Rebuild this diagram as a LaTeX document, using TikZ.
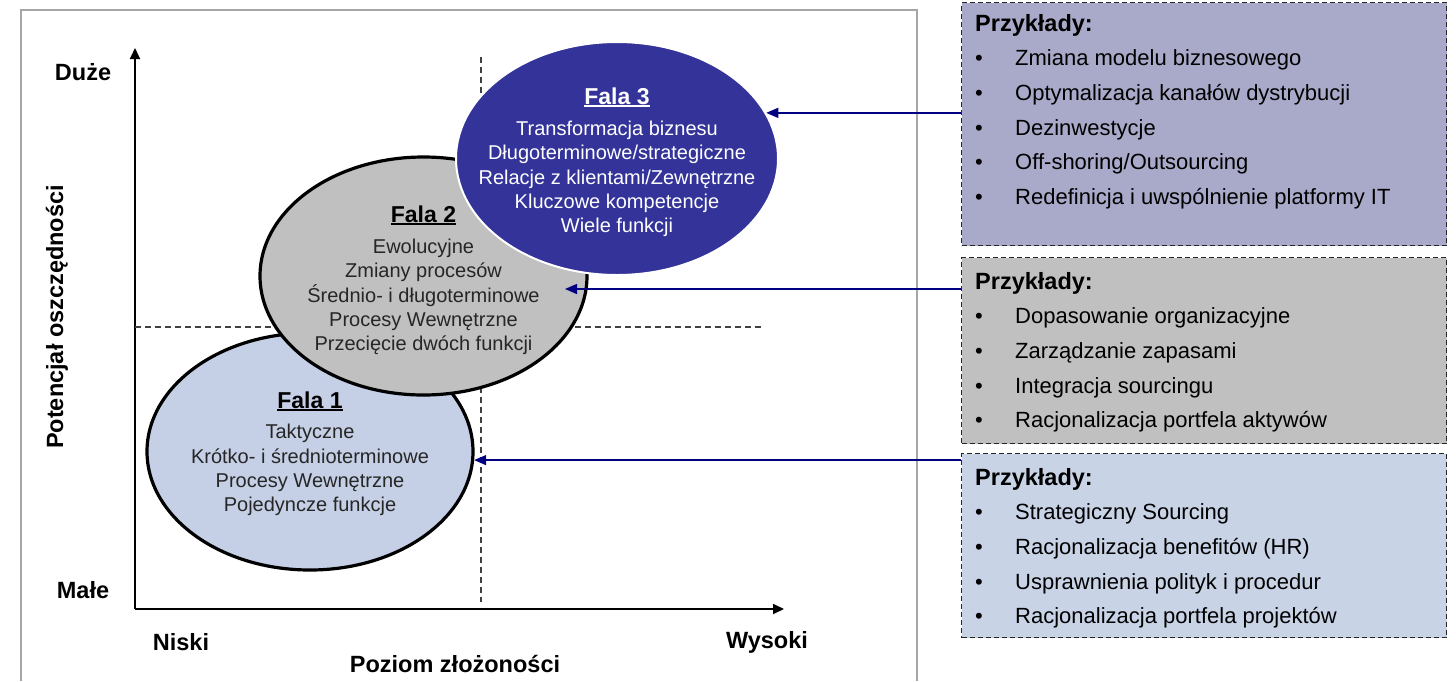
\documentclass[tikz,border=0pt]{standalone}
\usepackage{fontspec}
\setmainfont{Liberation Sans}
\usetikzlibrary{shapes.geometric,arrows.meta}
\definecolor{navyarr}{HTML}{000080}
\definecolor{falaA}{HTML}{C5D0E6}
\definecolor{falaB}{HTML}{C0C0C0}
\definecolor{falaC}{HTML}{333399}
\definecolor{boxA}{HTML}{A9A9C9}
\definecolor{boxB}{HTML}{C0C0C0}
\definecolor{boxC}{HTML}{C9D3E6}
\definecolor{framegray}{HTML}{A6A6A6}
\newcommand\falattl[1]{\setbox0\hbox{#1}\rlap{\rule[-2.6pt]{\wd0}{1.8pt}}\box0}
\newcommand\itm{\makebox[40pt][l]{•}}
\tikzset{
  ell/.style={ellipse, inner sep=0pt},
  ttl/.style={font=\fontsize{23}{27}\selectfont\bfseries, inner sep=0pt},
  body/.style={font=\fontsize{20}{24.3}\selectfont, align=center, inner sep=0pt},
  axislabel/.style={font=\fontsize{23.5}{27}\selectfont\bfseries, inner sep=0pt},
  exbox/.style={draw=black!85, line width=1.2pt, dash pattern=on 5pt off 3pt, anchor=north west, inner sep=0pt},
  extext/.style={font=\fontsize{22}{34.6}\selectfont, align=left, anchor=north west, inner sep=0pt},
  axisline/.style={draw=black, line width=1.8pt, -{Triangle[length=11pt,width=10pt]}},
  guide/.style={draw=black!75, line width=1.2pt, dash pattern=on 6pt off 4pt},
  navarr/.style={draw=navyarr, line width=1.4pt, -{Triangle[length=12pt,width=10pt]}},
}
\begin{document}
\begin{tikzpicture}[x=1pt,y=-1pt]
\useasboundingbox (0,0) rectangle (1456,681);
% outer frame
\draw[framegray, line width=1.5pt] (21,681) -- (21,10) -- (917,10) -- (917,681);
% axes
\coordinate (O) at (135,609);
\coordinate (Ytop) at (135,48);
\coordinate (Xend) at (784,609);
\draw[axisline] (O) -- (Ytop);
\draw[axisline] (O) -- (Xend);
% dashed guides
\coordinate (hA) at (135,327);
\coordinate (hB) at (762,327);
\coordinate (vA) at (481,57);
\coordinate (vB) at (481,602);
\draw[guide] (hA) -- (hB);
\draw[guide] (vA) -- (vB);
% axis labels
\node[axislabel] (duze) at (83,72) {Duże};
\node[axislabel] (male) at (83,590) {Małe};
\node[axislabel] (niski) at (181,642) {Niski};
\node[axislabel] (wysoki) at (767,642) {Wysoki};
\node[axislabel] (poziom) at (455,664) {Poziom złożoności};
\node[axislabel, rotate=90] (potencjal) at (57,317) {Potencjał oszczędności};
% ellipses
\node[ell, fill=falaA, draw=black, line width=3.2pt, minimum width=326pt, minimum height=237pt] (e1) at (310,451.5) {};
\node[ell, fill=falaB, draw=black, line width=3.2pt, minimum width=327pt, minimum height=238pt] (e2) at (423.5,276) {};
\node[ell, fill=falaC, draw=white, line width=2pt, minimum width=322pt, minimum height=233pt] (e3) at (617,158.5) {};
% ellipse texts
\node[ttl] (t1) at (310,401) {\falattl{Fala 1}};
\node[body, text=black!85] (x1) at (310,470) {Taktyczne\\Krótko- i średnioterminowe\\Procesy Wewnętrzne\\Pojedyncze funkcje};
\node[ttl] (t2) at (423.5,215) {\falattl{Fala 2}};
\node[body, text=black!85] (x2) at (423.5,297) {Ewolucyjne\\Zmiany procesów\\Średnio- i długoterminowe\\Procesy Wewnętrzne\\Przecięcie dwóch funkcji};
\node[ttl, text=white] (t3) at (617,97) {\falattl{Fala 3}};
\node[body, text=white] (x3) at (617,179) {Transformacja biznesu\\Długoterminowe/strategiczne\\Relacje z klientami/Zewnętrzne\\Kluczowe kompetencje\\Wiele funkcji};
% example boxes
\node[exbox, fill=boxA, minimum width=485pt, minimum height=243pt] (b1) at (961,2) {};
\node[exbox, fill=boxB, minimum width=485pt, minimum height=186pt] (b2) at (961,257) {};
\node[exbox, fill=boxC, minimum width=485pt, minimum height=184pt] (b3) at (961,453) {};
\node[extext] (p1) at (975,14) {{\bfseries\fontsize{23.5}{34.6}\selectfont Przykłady:}\\\itm Zmiana modelu biznesowego\\\itm Optymalizacja kanałów dystrybucji\\\itm Dezinwestycje\\\itm Off-shoring/Outsourcing\\\itm Redefinicja i uwspólnienie  platformy IT};
\node[extext] (p2) at (975,272) {{\bfseries\fontsize{23.5}{34.6}\selectfont Przykłady:}\\\itm Dopasowanie organizacyjne\\\itm Zarządzanie zapasami\\\itm Integracja sourcingu\\\itm Racjonalizacja portfela aktywów};
\node[extext] (p3) at (975,468) {{\bfseries\fontsize{23.5}{34.6}\selectfont Przykłady:}\\\itm Strategiczny Sourcing\\\itm Racjonalizacja benefitów (HR)\\\itm Usprawnienia polityk i procedur\\\itm Racjonalizacja portfela projektów};
% arrows
\coordinate (c2) at (565,289);
\draw[navarr] (b1.west |- e3.17) -- (e3.17);
\draw[navarr] (b2.west |- c2) -- (c2);
\draw[navarr] (b3.west |- e1.-3.7) -- (e1.-3.7);
\end{tikzpicture}
\end{document}
